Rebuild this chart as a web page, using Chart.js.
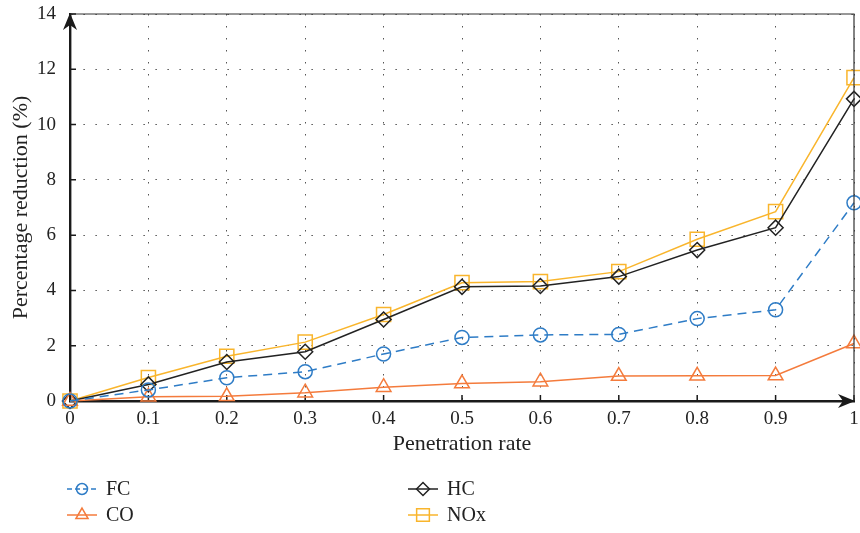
<!DOCTYPE html>
<html><head><meta charset="utf-8">
<script src="https://cdn.jsdelivr.net/npm/chart.js@4/dist/chart.umd.min.js"></script>
<style>html,body{margin:0;padding:0;background:#fff}#wrap{width:860px;height:533px}</style>
</head><body><div id="wrap"><canvas id="c" width="860" height="533"></canvas></div>
<script>
const penetration = [0,0.1,0.2,0.3,0.4,0.5,0.6,0.7,0.8,0.9,1];
const FC  = [0,0.40,0.84,1.06,1.70,2.30,2.39,2.41,2.98,3.30,7.17];
const CO  = [0,0.15,0.17,0.30,0.50,0.63,0.70,0.90,0.91,0.92,2.08];
const HC  = [0,0.60,1.41,1.78,2.95,4.13,4.16,4.50,5.46,6.27,10.93];
const NOx = [0,0.85,1.62,2.13,3.13,4.28,4.32,4.68,5.85,6.85,11.70];
const xTicks = ['0','0.1','0.2','0.3','0.4','0.5','0.6','0.7','0.8','0.9','1'];
const yTicks = [0,2,4,6,8,10,12,14];
const seriesNames = ['FC','CO','HC','NOx'];

const serif = "'Liberation Serif','DejaVu Serif',serif";
const pts = a => a.map((v,i)=>({x:penetration[i],y:v}));

const ds = [
 {label:seriesNames[0],data:pts(FC),borderColor:'#2e7cc6',borderDash:[9,6],pointStyle:'circle',pointRadius:7},
 {label:seriesNames[1],data:pts(CO),borderColor:'#f47b3c',pointStyle:'triangle',pointRadius:8.5},
 {label:seriesNames[2],data:pts(HC),borderColor:'#222222',pointStyle:'rectRot',pointRadius:7.5},
 {label:seriesNames[3],data:pts(NOx),borderColor:'#f9b52c',pointStyle:'rect',pointRadius:10}
].map(d=>Object.assign({borderWidth:1.5,pointBorderWidth:1.5,pointBackgroundColor:'rgba(0,0,0,0)',pointBorderColor:d.borderColor,fill:false,tension:0,clip:false},d));

const framePlugin = {
 id:'frame',
 beforeDatasetsDraw(chart){
  const {ctx,chartArea:a,scales}=chart;
  ctx.save();
  ctx.strokeStyle='#1a1a1a';ctx.lineWidth=1.5;
  ctx.beginPath();
  penetration.forEach(v=>{const x=scales.x.getPixelForValue(v);ctx.moveTo(x,a.bottom);ctx.lineTo(x,a.bottom-6);});
  yTicks.forEach(v=>{const y=scales.y.getPixelForValue(v);ctx.moveTo(a.left,y);ctx.lineTo(a.left+6,y);});
  ctx.stroke();
  ctx.restore();
 },
 afterDatasetsDraw(chart){
  const {ctx,chartArea:a}=chart;
  ctx.save();
  ctx.strokeStyle='#333';ctx.lineWidth=1.2;
  ctx.beginPath();ctx.moveTo(a.left,a.top);ctx.lineTo(a.right,a.top);ctx.lineTo(a.right,a.bottom);ctx.stroke();
  ctx.fillStyle='#1a1a1a';
  ctx.beginPath();ctx.moveTo(a.left,a.top-1);ctx.lineTo(a.left-7,a.top+16);ctx.lineTo(a.left,a.top+11);ctx.lineTo(a.left+7,a.top+16);ctx.closePath();ctx.fill();
  ctx.beginPath();ctx.moveTo(a.right+1,a.bottom);ctx.lineTo(a.right-16,a.bottom-7);ctx.lineTo(a.right-11,a.bottom);ctx.lineTo(a.right-16,a.bottom+7);ctx.closePath();ctx.fill();
  ctx.restore();
 },
 afterDraw(chart){
  const {ctx}=chart;
  const pos=[[67,489],[67,515],[408,489],[408,515]];
  const mr=[5.5,7,6.5,9];
  chart.data.datasets.forEach((d,i)=>{
   const [x,y]=pos[i];
   ctx.save();
   ctx.strokeStyle=d.borderColor;ctx.lineWidth=1.5;
   ctx.setLineDash(d.borderDash?[5,3]:[]);
   ctx.beginPath();ctx.moveTo(x,y);ctx.lineTo(x+30,y);ctx.stroke();
   ctx.setLineDash([]);
   Chart.helpers.drawPoint(ctx,{pointStyle:d.pointStyle,radius:mr[i],borderWidth:1.5},x+15,y);
   ctx.fillStyle='#222';ctx.font='20px '+serif;ctx.textBaseline='middle';
   ctx.fillText(d.label,x+39,y+1);
   ctx.restore();
  });
 }
};

new Chart(document.getElementById('c'),{
 type:'line',
 data:{datasets:ds},
 options:{
  responsive:false,animation:false,
  layout:{autoPadding:false,padding:{top:14,right:6,bottom:72,left:0}},
  plugins:{legend:{display:false},tooltip:{enabled:false}},
  scales:{
   x:{type:'linear',min:0,max:1,
    afterFit(s){s.height=60;s.paddingLeft=0;s.paddingRight=0;},
    afterBuildTicks(s){s.ticks=penetration.map(v=>({value:v}));},
    ticks:{callback:(v,i)=>xTicks[i],color:'#222',font:{family:serif,size:19},padding:7,maxRotation:0},
    grid:{color:'#555',lineWidth:1,drawTicks:false},
    border:{display:true,color:'#1a1a1a',width:2.4,dash:[1.5,10.5]},
    title:{display:true,text:'Penetration rate',color:'#222',font:{family:serif,size:22},padding:{top:4}}
   },
   y:{min:0,max:14,
    afterFit(s){s.width=70;s.paddingTop=0;s.paddingBottom=0;},
    afterBuildTicks(s){s.ticks=yTicks.map(v=>({value:v}));},
    ticks:{color:'#222',font:{family:serif,size:19},padding:14},
    grid:{color:'#555',lineWidth:1,drawTicks:false},
    border:{display:true,color:'#1a1a1a',width:2.4,dash:[1.5,10.5]},
    title:{display:true,text:'Percentage reduction (%)',color:'#222',font:{family:serif,size:22},padding:{top:8,bottom:0}}
   }
  }
 },
 plugins:[framePlugin]
});
</script></body></html>
